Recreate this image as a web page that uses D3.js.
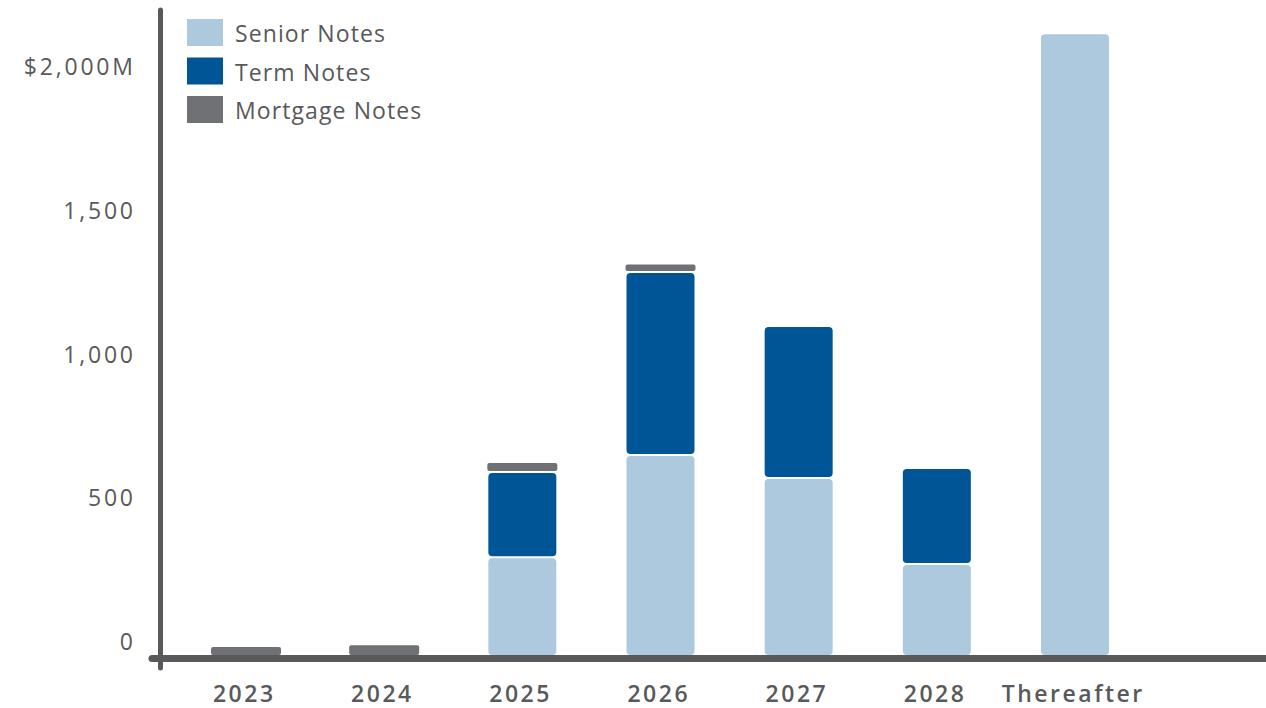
<!DOCTYPE html>
<html><head><meta charset="utf-8">
<script src="https://cdn.jsdelivr.net/npm/d3@7"></script>
<style>
html,body{margin:0;padding:0;background:#fff;}
svg{display:block;}
text{font-family:"Open Sans","Lato",sans-serif;fill:#58595b;}
</style></head>
<body>
<svg id="c" width="1266" height="708"></svg>
<script>
const categories = ["2023","2024","2025","2026","2027","2028","Thereafter"];
const seniorNotes   = [0, 0, 337, 692, 612, 313, 2160];
const termNotes     = [0, 0, 296, 637, 529, 334, 0];
const mortgageNotes = [28, 34, 35, 30, 0, 0, 0];
const seriesNames = ["Senior Notes","Term Notes","Mortgage Notes"];
const seriesColors = ["#adc9dd","#005596","#707175"];
const tickValues = [0, 500, 1000, 1500, 2000];
const tickLabels = ["0","500","1,000","1,500","$2,000M"];

const svg = d3.select("#c");
const y = d3.scaleLinear().domain([0, 2000]).range([655, 80.2]);
const x = d3.scalePoint().domain(categories).range([246, 1075]);
const barW = 68;
const axisColor = "#58595b";

const rows = categories.map((c,i)=>({cat:c, s:seniorNotes[i], t:termNotes[i], m:mortgageNotes[i]}));
const stack = d3.stack().keys(["s","t","m"])(rows);

stack.forEach((layer, li) => {
  svg.append("g").selectAll("rect").data(layer.filter(d => d[1] - d[0] > 0)).join("rect")
    .attr("x", d => x(d.data.cat) - barW/2 - (li===2 ? 1 : 0))
    .attr("width", barW + (li===2 ? 2 : 0))
    .attr("y", d => y(d[1]))
    .attr("height", d => Math.max(1, y(d[0]) - y(d[1]) - (d[0] > 0 ? 2 : 0)))
    .attr("rx", li===2 ? 2 : 4)
    .attr("fill", seriesColors[li]);
});

// axes
svg.append("line").attr("x1",160.5).attr("x2",160.5).attr("y1",10).attr("y2",668)
  .attr("stroke",axisColor).attr("stroke-width",5).attr("stroke-linecap","round");
svg.append("line").attr("x1",152).attr("x2",1266).attr("y1",658.5).attr("y2",658.5)
  .attr("stroke",axisColor).attr("stroke-width",7).attr("stroke-linecap","round");

// y tick labels
const yls = 2.8;
svg.append("g").selectAll("text").data(tickValues).join("text")
  .attr("x",133 + yls).attr("y", d => y(d) - 14)
  .attr("text-anchor","end").attr("dominant-baseline","central")
  .style("font-size","23px").style("letter-spacing",yls+"px")
  .text((d,i)=>tickLabels[i]);

// x labels
const xls = 2.5;
svg.append("g").selectAll("text").data(categories).join("text")
  .attr("x", d => x(d) - 3 + xls/2).attr("y", 693)
  .attr("text-anchor","middle").attr("dominant-baseline","central")
  .style("font-size","23px").style("font-weight","600").style("letter-spacing",xls+"px")
  .text(d=>d);

// legend
const lg = svg.append("g");
seriesNames.forEach((n,i)=>{
  lg.append("rect").attr("x",187).attr("y",19 + i*38.5).attr("width",36).attr("height",27)
    .attr("fill",seriesColors[i]);
  lg.append("text").attr("x",235).attr("y",33 + i*38.5).attr("dominant-baseline","central")
    .style("font-size","23px").style("letter-spacing","1.1px").text(n);
});
</script>
</body></html>
